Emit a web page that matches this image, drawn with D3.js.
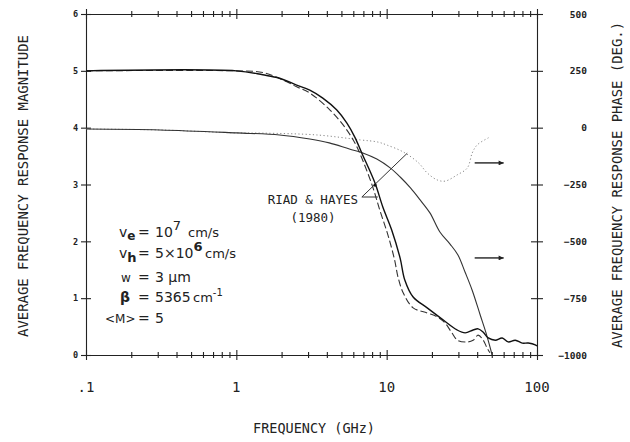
<!DOCTYPE html>
<html>
<head>
<meta charset="utf-8">
<script src="https://cdn.jsdelivr.net/npm/d3@7"></script>
<style>
  body { margin: 0; background: #fff; }
  #chart-container { width: 630px; height: 442px; }
  .mono { font-family: 'DejaVu Sans Mono', monospace; fill: #222; }
  .param { font-family: 'DejaVu Sans', sans-serif; fill: #222; font-size: 14px; }
</style>
</head>
<body>
<div id="chart-container"></div>
<script>
// Magnitude of the average frequency response (solid curve, left axis)
const magFreq = [0.1, 1, 1.5, 1.94, 2.52, 3.08, 3.76, 4.66, 5.44, 6.15, 6.84, 8.35, 9.44, 10.8, 12.3, 13.2, 15.0, 18.6, 23.7, 29.4, 33.3, 37.6, 40.6, 43.9, 47.4, 52.8, 58.7, 64.4, 71.7, 79.8, 87.5, 97.4, 100];
const magValues = [5.0, 5.0, 4.93, 4.87, 4.75, 4.66, 4.52, 4.31, 4.08, 3.83, 3.55, 3.03, 2.60, 2.20, 1.70, 1.32, 1.02, 0.83, 0.62, 0.44, 0.39, 0.44, 0.46, 0.40, 0.30, 0.26, 0.30, 0.23, 0.26, 0.21, 0.21, 0.18, 0.16];

// Riad & Hayes (1980) magnitude (dashed curve, left axis)
const rhMagFreq = [0.1, 1, 1.5, 2.04, 2.52, 3.08, 4.2, 5.3, 6.15, 6.7, 8.0, 9.0, 10.2, 11.3, 11.9, 12.9, 15.0, 18.6, 21.7, 24.5, 27.0, 29.6, 34.4, 37.6, 40.6, 43.9, 46.6, 48.6];
const rhMagValues = [5.0, 5.0, 4.97, 4.84, 4.72, 4.61, 4.31, 4.0, 3.73, 3.52, 2.99, 2.55, 2.11, 1.67, 1.37, 1.09, 0.83, 0.74, 0.67, 0.56, 0.40, 0.26, 0.23, 0.26, 0.35, 0.26, 0.12, 0.04];

// Phase of the average frequency response (thin solid curve, right axis)
const phaseFreq = [0.1, 0.31, 1, 1.94, 3.08, 4.15, 5.65, 6.94, 8.6, 10.55, 12.3, 14.4, 16.7, 19.4, 22.6, 26.4, 29.8, 33.2, 37.0, 41.9, 45.8, 50.3];
const phaseValues = [-6, -10, -23, -32, -50, -67, -94, -111, -138, -177, -217, -265, -318, -375, -459, -512, -560, -635, -714, -824, -903, -1000];

// Riad & Hayes (1980) phase (dotted curve, right axis)
const rhPhaseFreq = [0.1, 0.31, 1, 1.5, 3.43, 6.7, 8.7, 10.0, 12.9, 16.3, 18.6, 21.7, 24.5, 29.4, 34.4, 37.1, 40.0, 47.4, 48.6];
const rhPhaseValues = [-6, -10, -23, -24, -32, -54, -63, -76, -107, -155, -199, -230, -235, -208, -177, -111, -76, -45, -41];

// Tick values and labels
const xTickValues = [0.1, 1, 10, 100];
const xTickLabels = ['.1', '1', '10', '100'];
const magTicks = [0, 1, 2, 3, 4, 5, 6];
const phaseTicks = [500, 250, 0, -250, -500, -750, -1000];

// Container dimensions
const containerWidth = 630;
const containerHeight = 442;
const plotLeft = 86, plotRight = 537, plotTop = 14, plotBottom = 355;

const svg = d3.select('#chart-container').append('svg')
    .attr('width', containerWidth)
    .attr('height', containerHeight);

// Scales
const x = d3.scaleLog().domain([0.1, 100]).range([plotLeft, plotRight]);
const yMag = d3.scaleLinear().domain([0, 6]).range([plotBottom, plotTop]);
const yPhase = d3.scaleLinear().domain([-1000, 500]).range([plotBottom, plotTop]);

const isMajor = d => xTickValues.some(v => Math.abs(v - d) < 1e-9);

// Bottom and top axes with log minor ticks crossing the frame
svg.append('g')
    .attr('transform', `translate(0,${plotBottom})`)
    .call(d3.axisBottom(x).tickValues(x.ticks()).tickFormat('').tickSizeOuter(0))
    .call(g => g.selectAll('.tick line').attr('y1', d => isMajor(d) ? -5 : -3).attr('y2', d => isMajor(d) ? 5 : 3));

svg.append('g')
    .attr('transform', `translate(0,${plotTop})`)
    .call(d3.axisTop(x).tickValues(x.ticks()).tickFormat('').tickSizeOuter(0))
    .call(g => g.selectAll('.tick line').attr('y1', d => isMajor(d) ? -5 : -3).attr('y2', d => isMajor(d) ? 5 : 3));

// Left axis (magnitude)
svg.append('g')
    .attr('transform', `translate(${plotLeft},0)`)
    .call(d3.axisLeft(yMag).tickValues(magTicks).tickFormat(d3.format('d')).tickSize(5).tickPadding(3).tickSizeOuter(0))
    .call(g => g.selectAll('.tick line').attr('x2', 5).attr('x1', -5))
    .call(g => g.selectAll('text').attr('class', 'mono').style('font-size', '8.5px').style('font-weight', 'bold'));

// Right axis (phase)
svg.append('g')
    .attr('transform', `translate(${plotRight},0)`)
    .call(d3.axisRight(yPhase).tickValues(phaseTicks).tickFormat(d3.format('d')).tickSize(6).tickSizeOuter(0))
    .call(g => g.selectAll('.tick line').attr('x1', -6).attr('x2', 6))
    .call(g => g.selectAll('text').attr('class', 'mono').attr('text-anchor', 'end').attr('x', 50)
        .style('font-size', '9.5px').style('font-weight', 'bold'));

svg.selectAll('.domain, .tick line').attr('stroke', '#222').attr('stroke-width', 1.1);

// Bottom tick labels
svg.selectAll('.x-label')
    .data(xTickValues)
    .enter()
    .append('text')
    .attr('class', 'mono')
    .attr('x', d => x(d))
    .attr('y', 392)
    .style('font-size', '14px')
    .style('text-anchor', 'middle')
    .text((d, i) => xTickLabels[i]);

// Axis titles
svg.append('text')
    .attr('class', 'mono')
    .attr('x', 314).attr('y', 433)
    .style('font-size', '14px')
    .style('text-anchor', 'middle')
    .attr('textLength', 122)
    .attr('lengthAdjust', 'spacingAndGlyphs')
    .text('FREQUENCY (GHz)');

svg.append('text')
    .attr('class', 'mono')
    .attr('transform', 'translate(28,186) rotate(-90)')
    .style('font-size', '14px')
    .style('text-anchor', 'middle')
    .attr('textLength', 302)
    .attr('lengthAdjust', 'spacingAndGlyphs')
    .text('AVERAGE FREQUENCY RESPONSE MAGNITUDE');

svg.append('text')
    .attr('class', 'mono')
    .attr('transform', 'translate(622,185) rotate(-90)')
    .style('font-size', '14px')
    .style('text-anchor', 'middle')
    .attr('textLength', 326)
    .attr('lengthAdjust', 'spacingAndGlyphs')
    .text('AVERAGE FREQUENCY RESPONSE PHASE (DEG.)');

// Line generators
const magLine = (fs, vs) => d3.line()
    .x((d, i) => x(fs[i]))
    .y(d => yMag(d))
    .curve(d3.curveCatmullRom.alpha(0.5))(vs);
const phaseLine = (fs, vs) => d3.line()
    .x((d, i) => x(fs[i]))
    .y(d => yPhase(d))
    .curve(d3.curveCatmullRom.alpha(0.5))(vs);

// Curves
svg.append('path')
    .attr('d', phaseLine(rhPhaseFreq, rhPhaseValues))
    .attr('fill', 'none')
    .attr('stroke', '#888')
    .attr('stroke-width', 1)
    .attr('stroke-dasharray', '1.2,2.4');

svg.append('path')
    .attr('d', phaseLine(phaseFreq, phaseValues))
    .attr('fill', 'none')
    .attr('stroke', '#333')
    .attr('stroke-width', 1.1);

svg.append('path')
    .attr('d', magLine(rhMagFreq, rhMagValues))
    .attr('fill', 'none')
    .attr('stroke', '#333')
    .attr('stroke-width', 1.1)
    .attr('stroke-dasharray', '7,3');

svg.append('path')
    .attr('d', magLine(magFreq, magValues))
    .attr('fill', 'none')
    .attr('stroke', '#111')
    .attr('stroke-width', 1.4);

// Riad & Hayes leader lines (positions in data units)
const leaderVertex = [6.84, 2.78];
const leaderEnds = [[8.73, 2.78], [13.7, 3.55]];
leaderEnds.forEach(p => {
    svg.append('line')
        .attr('x1', x(leaderVertex[0])).attr('y1', yMag(leaderVertex[1]))
        .attr('x2', x(p[0])).attr('y2', yMag(p[1]))
        .attr('stroke', '#333')
        .attr('stroke-width', 1);
});
svg.append('circle')
    .attr('cx', x(8.37)).attr('cy', yMag(2.99))
    .attr('r', 1.6)
    .attr('fill', '#111');

svg.append('text')
    .attr('class', 'mono')
    .attr('x', 358).attr('y', 204)
    .style('font-size', '12.5px')
    .style('text-anchor', 'end')
    .text('RIAD & HAYES');
svg.append('text')
    .attr('class', 'mono')
    .attr('x', 313).attr('y', 222)
    .style('font-size', '12.5px')
    .style('text-anchor', 'middle')
    .text('(1980)');

// Arrows pointing to the phase axis
svg.append('defs').append('marker')
    .attr('id', 'arrow-head')
    .attr('viewBox', '0 0 10 10')
    .attr('refX', 10).attr('refY', 5)
    .attr('markerWidth', 6).attr('markerHeight', 5)
    .attr('markerUnits', 'userSpaceOnUse')
    .attr('orient', 'auto')
    .append('path')
    .attr('d', 'M0,0 L10,5 L0,10 Z')
    .attr('fill', '#222');

const arrowPhase = [-155, -573];
const arrowFreq = [38.5, 60];
arrowPhase.forEach(p => {
    svg.append('line')
        .attr('x1', x(arrowFreq[0])).attr('x2', x(arrowFreq[1]))
        .attr('y1', yPhase(p)).attr('y2', yPhase(p))
        .attr('stroke', '#222')
        .attr('stroke-width', 1.4)
        .attr('marker-end', 'url(#arrow-head)');
});

// Parameter block
const params = svg.append('g');
const rows = [237, 258, 282, 302, 323];

let t = params.append('text').attr('class', 'param').attr('x', 119).attr('y', rows[0]);
t.append('tspan').text('v');
t.append('tspan').attr('dy', 3).style('font-weight', 'bold').style('font-size', '12px').text('e');
t.append('tspan').attr('x', 138).attr('dy', -3).text('=');
t.append('tspan').attr('x', 155).text('10');
t.append('tspan').attr('dy', -7).style('font-size', '13px').text('7');
t.append('tspan').attr('x', 188).attr('dy', 7).style('font-size', '13px').text('cm/s');

t = params.append('text').attr('class', 'param').attr('x', 119).attr('y', rows[1]);
t.append('tspan').text('v');
t.append('tspan').attr('dy', 4).style('font-weight', 'bold').style('font-size', '13px').text('h');
t.append('tspan').attr('x', 138).attr('dy', -4).text('=');
t.append('tspan').attr('x', 155).text('5×10');
t.append('tspan').attr('dy', -7).style('font-size', '13px').style('font-weight', 'bold').text('6');
t.append('tspan').attr('x', 205).attr('dy', 7).style('font-size', '13px').text('cm/s');

t = params.append('text').attr('class', 'param').attr('x', 121).attr('y', rows[2]);
t.append('tspan').style('font-size', '12px').text('w');
t.append('tspan').attr('x', 138).text('=');
t.append('tspan').attr('x', 155).text('3 μm');

t = params.append('text').attr('class', 'param').attr('x', 120).attr('y', rows[3]);
t.append('tspan').style('font-weight', 'bold').text('β');
t.append('tspan').attr('x', 138).text('=');
t.append('tspan').attr('x', 155).text('5365');
t.append('tspan').attr('x', 193).style('font-size', '13px').text('cm');
t.append('tspan').attr('dy', -6).style('font-size', '10px').text('-1');

t = params.append('text').attr('class', 'param').attr('x', 105).attr('y', rows[4]);
t.append('tspan').style('font-size', '12px').text('<M>');
t.append('tspan').attr('x', 138).text('=');
t.append('tspan').attr('x', 155).text('5');
</script>
</body>
</html>
